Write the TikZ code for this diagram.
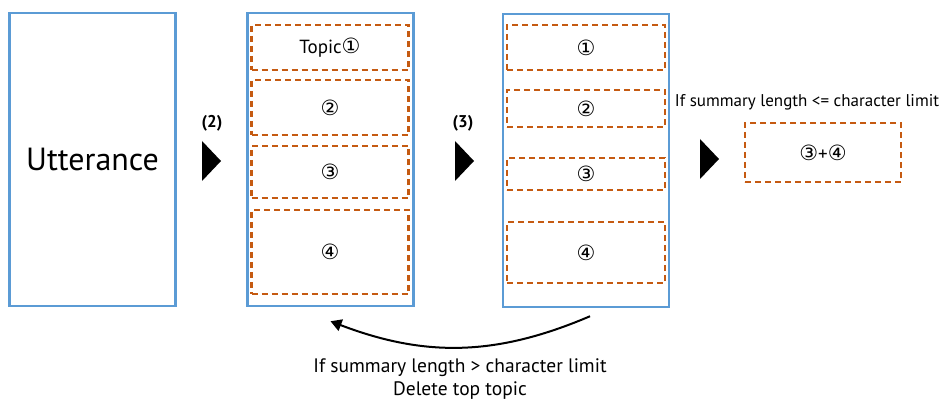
\documentclass[tikz,border=0pt]{standalone}
\usepackage{fontspec}
\setmainfont{PT Sans}
\newfontfamily\circfont{DejaVu Sans}
\usetikzlibrary{arrows.meta}
\definecolor{panelblue}{HTML}{5B9BD5}
\definecolor{topicorange}{HTML}{C55A11}
\newcommand\cn[1]{{\circfont\fontsize{21}{24}\selectfont #1}}
\tikzset{
  panel/.style={rectangle,draw=panelblue,line width=2.5pt,inner sep=0pt,minimum width=166pt,minimum height=293pt},
  topic/.style={rectangle,draw=topicorange,line width=2.8pt,dash pattern=on 6pt off 4pt,inner sep=0pt,minimum width=157pt,font=\fontsize{19}{22}\selectfont},
  note/.style={font=\fontsize{19.5}{23}\selectfont,align=center},
  steplabel/.style={font=\fontsize{17}{20}\selectfont\bfseries}
}
\begin{document}
\begin{tikzpicture}[x=1pt,y=-1pt]
  \useasboundingbox (0,0) rectangle (940,401);
  % the three columns
  \node[panel,font=\fontsize{32}{36}\selectfont] (utt) at (92.5,159.5) {Utterance};
  \node[panel] (sum) at (330.5,159.5) {};
  \node[panel] (cut) at (586,160.5) {};
  % topics before cutting
  \node[topic,minimum height=45pt] (s1) at (330,47.5) {Topic\cn{①}};
  \node[topic,minimum height=55pt] (s2) at (330,107.5) {\cn{②}};
  \node[topic,minimum height=52pt] (s3) at (330,172) {\cn{③}};
  \node[topic,minimum height=84pt] (s4) at (330,252) {\cn{④}};
  % topics after cutting
  \node[topic,minimum height=45pt,minimum width=158pt] (c1) at (586,47.5) {\cn{①}};
  \node[topic,minimum height=37pt,minimum width=158pt] (c2) at (586,108.5) {\cn{②}};
  \node[topic,minimum height=32pt,minimum width=158pt] (c3) at (586,174) {\cn{③}};
  \node[topic,minimum height=61pt,minimum width=158pt] (c4) at (586,252.5) {\cn{④}};
  % merged result
  \node[topic,minimum height=59pt,minimum width=156pt] (res) at (823,152.5) {\cn{③}+\cn{④}};
  \node[note,font=\fontsize{17}{20}\selectfont] (ok) at (807,102) {If summary length <= character limit};
  % step markers
  \node[steplabel] (l2) at (212,123) {(2)};
  \node[steplabel] (l3) at (463,123) {(3)};
  \fill (202,141) -- (221,161) -- (202,181) -- cycle;
  \fill (455,141) -- (474,161) -- (455,181) -- cycle;
  \fill (700,139) -- (719,159) -- (700,179) -- cycle;
  % loop back when too long
  \draw[line width=2pt,-{Triangle[length=11pt,width=12pt]}] ([xshift=4pt,yshift=-8pt]cut.south) to[bend left=22] ([yshift=-14pt]sum.south);
  \node[note] (ng) at (460,379) {If summary length > character limit\\Delete top topic};
\end{tikzpicture}
\end{document}
